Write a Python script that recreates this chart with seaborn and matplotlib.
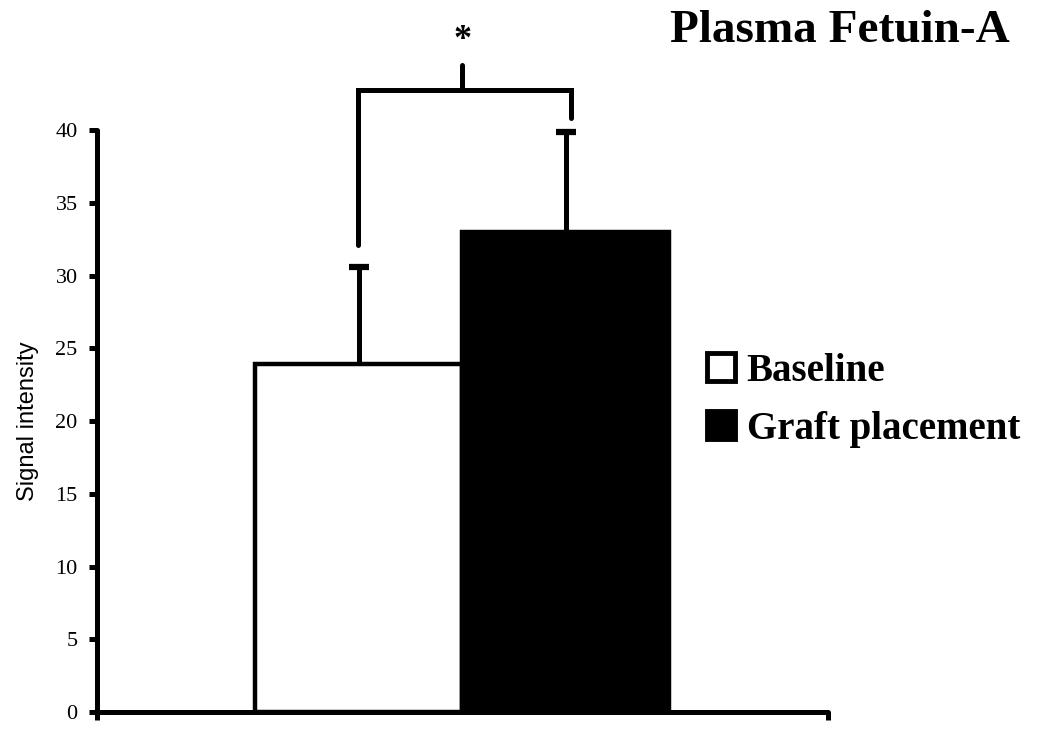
import numpy as np
import pandas as pd
import seaborn as sns
import matplotlib.pyplot as plt
from matplotlib.patches import Patch

groups = ['Baseline', 'Graft placement']
means = [23.9, 33.0]
sd_up = [6.7, 6.9]
colors = ['white', 'black']
yticks = [0, 5, 10, 15, 20, 25, 30, 35, 40]

sns.set_style('white')
plt.rcParams['font.family'] = ['Liberation Serif', 'DejaVu Serif']
plt.rcParams['text.color'] = 'black'
plt.rcParams['axes.labelcolor'] = 'black'
plt.rcParams['xtick.color'] = 'black'
plt.rcParams['ytick.color'] = 'black'

fig = plt.figure(figsize=(10.5, 7.35), dpi=100)
ax = fig.add_axes([0.0924, 0.0313, 0.6966, 0.7917])

df = pd.DataFrame({'group': groups, 'mean': means})
sns.barplot(data=df, x='group', y='mean', hue='group', palette=colors,
            edgecolor='black', linewidth=3.2, width=1.0, dodge=False,
            legend=False, ax=ax, errorbar=None)

# one-sided error bars (cap only on top)
tops = [m + s for m, s in zip(means, sd_up)]
ax.errorbar([0, 1], means, yerr=[[0, 0], sd_up], fmt='none', ecolor='black',
            elinewidth=3.6, capsize=0, clip_on=False, zorder=1)
ax.plot([0, 1], tops, ls='none', marker='_', ms=14, mew=4.5, color='black',
        clip_on=False, zorder=1)

ax.set_xlim(-1.263, 2.268)
ax.set_ylim(0, 40)
ax.set_yticks(yticks)
ax.set_yticklabels([str(t) for t in yticks], fontsize=16)
ax.set_xticks([-1.263, 2.268])
ax.set_xticklabels(['', ''])
ax.tick_params(axis='both', direction='out', length=6, width=3.6, left=True, bottom=True, pad=8)
ax.set_xlabel('')
ax.set_ylabel('Signal intensity', fontsize=17, family=['Liberation Sans', 'DejaVu Sans'], labelpad=12)

for side in ['top', 'right']:
    ax.spines[side].set_visible(False)
for side in ['left', 'bottom']:
    ax.spines[side].set_linewidth(3.6)
    ax.spines[side].set_color('black')
    ax.spines[side].set_capstyle('round')

# significance bracket
ax.plot([-0.005, -0.005, 1.025, 1.025], [32.1, 42.75, 42.75, 40.8], color='black',
        lw=3.6, clip_on=False, solid_joinstyle='miter')
ax.plot([0.5, 0.5], [42.75, 44.5], color='black', lw=3.6, clip_on=False)
ax.text(0.5, 45.0, '*', ha='center', va='bottom', fontsize=26, fontweight='bold')

fig.text(0.80, 0.958, 'Plasma Fetuin-A', ha='center', va='center', fontsize=34, fontweight='bold')

handles = [Patch(facecolor=c, edgecolor='black', linewidth=3.5) for c in colors]
leg = fig.legend(handles, groups, loc='upper left', bbox_to_anchor=(0.640, 0.568),
                 frameon=False, prop={'weight': 'bold', 'size': 28},
                 handlelength=0.72, handleheight=0.72, handletextpad=0.3, labelspacing=0.55)

fig.savefig('out.png', dpi=100)
